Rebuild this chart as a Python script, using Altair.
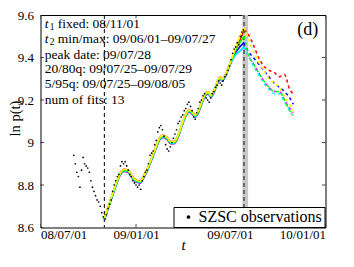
import altair as alt
import pandas as pd

FONT = "Liberation Serif"

# ---------------- data ----------------
x_ticks = ["2008-07-01", "2009-01-01", "2009-07-01", "2010-01-01"]
y_ticks = [8.6, 8.8, 9.0, 9.2, 9.4, 9.6]

# observations (every 3rd calendar day from obs_start)
obs_start = "2008-09-03"
obs_values = [
    8.94, 8.90, 8.86, 8.84, 8.79, 8.87, 8.93, 8.90, 8.89, 8.88,
    8.86, 8.82, 8.79, 8.77, 8.75, 8.73, 8.72, 8.70, 8.67, 8.65,
    8.64, 8.66, 8.69, 8.71, 8.73, 8.77, 8.80, 8.82, 8.84, 8.85,
    8.89, 8.91, 8.90, 8.91, 8.89, 8.87, 8.85, 8.84, 8.82, 8.81,
    8.80, 8.79, 8.80, 8.78, 8.82, 8.84, 8.86, 8.87, 8.90, 8.94,
    8.95, 8.96, 8.99, 9.01, 9.05, 9.07, 9.08, 9.06, 9.03, 8.99,
    8.97, 8.96, 8.98, 9.00, 9.02, 9.04, 9.06, 9.09, 9.10, 9.12,
    9.13, 9.15, 9.16, 9.18, 9.19, 9.17, 9.15, 9.12, 9.11, 9.14,
    9.16, 9.19, 9.20, 9.22, 9.23, 9.21, 9.20, 9.19, 9.21, 9.23,
    9.24, 9.26, 9.27, 9.29, 9.28, 9.27, 9.29, 9.31, 9.32, 9.34,
    9.36, 9.39, 9.42, 9.44, 9.45, 9.47, 9.46, 9.50, 9.52, 9.53,
]

# common pre-peak fit curve
curve_dates = [
    "2008-11-01", "2008-11-12", "2008-11-23", "2008-12-01", "2008-12-09",
    "2008-12-17", "2008-12-24", "2009-01-01", "2009-01-09", "2009-01-16",
    "2009-01-24", "2009-02-01", "2009-02-09", "2009-02-16", "2009-02-22",
    "2009-03-02", "2009-03-09", "2009-03-15", "2009-03-23", "2009-03-30",
    "2009-04-07", "2009-04-13", "2009-04-19", "2009-04-25", "2009-04-30",
    "2009-05-08", "2009-05-16", "2009-05-20", "2009-05-25", "2009-05-31",
    "2009-06-08", "2009-06-12", "2009-06-16", "2009-06-21", "2009-07-01",
]
curve_base = [
    8.64, 8.72, 8.80, 8.85, 8.87,
    8.865, 8.84, 8.82, 8.815, 8.84,
    8.88, 8.93, 8.98, 9.02, 9.03,
    9.02, 9.00, 9.00, 9.03, 9.08,
    9.13, 9.15, 9.14, 9.125, 9.14,
    9.19, 9.23, 9.235, 9.22, 9.24,
    9.29, 9.305, 9.295, 9.31, 9.37,
]
tail_dates = ["2009-07-11", "2009-07-20", "2009-07-28"]

fit_names = ["magenta", "blue", "red", "cyan", "green", "yellow"]
fit_colors = ["#ff00ff", "#0000ff", "#ff0000", "#00ffff", "#00ff00", "#ffff00"]
fit_offsets = [-0.006, -0.004, 0.004, -0.003, 0.0, 0.003]
fit_tails = {
    "magenta": [9.41, 9.43, 9.45],
    "blue":    [9.42, 9.45, 9.47],
    "red":     [9.43, 9.48, 9.53],
    "cyan":    [9.41, 9.43, 9.45],
    "green":   [9.43, 9.47, 9.50],
    "yellow":  [9.44, 9.50, 9.54],
}

post_dates = ["2009-07-28", "2009-08-05", "2009-08-15", "2009-08-25", "2009-09-04",
              "2009-09-14", "2009-09-24", "2009-10-04", "2009-10-14", "2009-10-24",
              "2009-10-31"]
post_values = {
    "red":     [9.53, 9.51, 9.46, 9.40, 9.36, 9.34, 9.33, 9.31, 9.32, 9.25, 9.23],
    "blue":    [9.47, 9.43, 9.40, 9.37, 9.34, 9.31, 9.28, 9.26, 9.24, 9.21, 9.18],
    "yellow":  [9.54, 9.49, 9.43, 9.38, 9.34, 9.30, 9.28, 9.26, 9.22, 9.18, 9.15],
    "magenta": [9.45, 9.41, 9.37, 9.33, 9.29, 9.26, 9.24, 9.24, 9.20, 9.16, 9.14],
    "cyan":    [9.45, 9.41, 9.36, 9.32, 9.28, 9.25, 9.23, 9.23, 9.19, 9.15, 9.12],
    "green":   [9.50, 9.42, 9.37, 9.33, 9.29, 9.26, 9.24, 9.24, 9.20, 9.15, 9.13],
}
post_order = ["red", "blue", "yellow", "magenta", "cyan", "green"]

t1_date = "2008-11-01"
peak_date = "2009-07-28"
band_start, band_end = "2009-07-25", "2009-08-05"

ann_x = "2008-07-09"
ann_sym = ["1", "2"]
ann_text = [
    "fixed: 08/11/01",
    "min/max: 09/06/01–09/07/27",
    "peak date: 09/07/28",
    "20/80q: 09/07/25–09/07/29",
    "5/95q:  09/07/25–09/08/05",
    "num of fits: 13",
]
ann_y = [9.558, 9.486, 9.414, 9.345, 9.273, 9.201]

# ---------------- frames ----------------
obs_dates = pd.date_range(obs_start, periods=len(obs_values), freq="3D").strftime("%Y-%m-%d")
obs_df = pd.DataFrame({"date": obs_dates, "v": obs_values, "series": "SZSC observations"})

W, H = 285, 212.5

xscale = alt.Scale(type="utc", domain=[alt.DateTime(year=2008, month=7, date=1, utc=True),
                                       alt.DateTime(year=2010, month=1, date=1, utc=True)])
yscale = alt.Scale(domain=[8.6, 9.6], nice=False, zero=False)

xaxis = alt.Axis(values=[alt.DateTime(year=int(d[:4]), month=int(d[5:7]), date=int(d[8:]), utc=True)
                         for d in x_ticks],
                 format="%y/%m/%d", ticks=False, domain=False, grid=False,
                 labelFont=FONT, labelFontSize=13, labelPadding=1, labelColor="black",
                 title="t", titleFont=FONT, titleFontStyle="italic", titleFontWeight="normal",
                 titleFontSize=15, titleY=16.5, titleBaseline="middle", titleColor="black")
yaxis = alt.Axis(values=y_ticks, format="~g", ticks=False, domain=False, grid=False,
                 labelFont=FONT, labelFontSize=13, labelPadding=7, labelColor="black",
                 title="ln p(t)", titleFont=FONT, titleFontWeight="normal", titleFontSize=14.5,
                 titleAngle=270, titleX=-25.5, titleY=103, titleAlign="center",
                 titleBaseline="middle", titleColor="black")

X = lambda f: alt.X(f, type="temporal", scale=xscale, axis=xaxis)
Y = lambda f: alt.Y(f, type="quantitative", scale=yscale, axis=yaxis)

layers = []

band_df = pd.DataFrame({"a": [band_start], "b": [band_end]})
layers.append(alt.Chart(band_df).mark_rect(color="#c8c8c8").encode(
    x=X("a"), x2="b", y=alt.value(0), y2=alt.value(H)))

layers.append(alt.Chart(pd.DataFrame({"d": [t1_date]})).mark_rule(
    color="black", strokeWidth=1, strokeDash=[4, 3]).encode(x=X("d"), y=alt.value(0), y2=alt.value(H)))
layers.append(alt.Chart(pd.DataFrame({"d": [peak_date]})).mark_rule(
    color="#555555", strokeWidth=1.6, strokeDash=[4, 3]).encode(x=X("d"), y=alt.value(0), y2=alt.value(H)))

# solid pre-peak fits
for name, col, off in zip(fit_names, fit_colors, fit_offsets):
    vals = [v + off for v in curve_base] + fit_tails[name]
    df = pd.DataFrame({"date": curve_dates + tail_dates, "v": vals})
    layers.append(alt.Chart(df).mark_line(color=col, strokeWidth=1.6, interpolate="monotone").encode(
        x=X("date"), y=Y("v")))

# dashed post-peak fits
for name in post_order:
    col = fit_colors[fit_names.index(name)]
    df = pd.DataFrame({"date": post_dates, "v": post_values[name]})
    layers.append(alt.Chart(df).mark_line(color=col, strokeWidth=1.5, strokeDash=[3, 3],
                                          interpolate="monotone").encode(x=X("date"), y=Y("v")))

# observations
layers.append(alt.Chart(obs_df).mark_circle(size=3, opacity=1).encode(
    x=X("date"), y=Y("v"),
    color=alt.Color("series:N", scale=alt.Scale(range=["black"]),
                    legend=alt.Legend(title=None, orient="bottom-right", offset=1,
                                      fillColor="white", strokeColor="black", padding=2,
                                      labelFont=FONT, labelFontSize=16, labelColor="black",
                                      labelFontWeight="normal",
                                      symbolSize=5, symbolType="circle", symbolFillColor="black",
                                      symbolStrokeColor="black", symbolOffset=5, labelOffset=2,
                                      cornerRadius=0))))

# annotations
t_df = pd.DataFrame({"d": [ann_x] * 2, "v": ann_y[:2], "s": ann_sym})
layers.append(alt.Chart(t_df).mark_text(font=FONT, fontSize=13.5, fontStyle="italic", align="left",
                                        baseline="middle", color="black").encode(
    x=X("d"), y=Y("v"), text=alt.value("t")))
layers.append(alt.Chart(t_df).mark_text(font=FONT, fontSize=9.5, align="left", dx=5, dy=3,
                                        baseline="middle", color="black").encode(
    x=X("d"), y=Y("v"), text="s:N"))
a_df = pd.DataFrame({"d": [ann_x] * 6, "v": ann_y, "t": ann_text})
layers.append(alt.Chart(a_df.iloc[:2]).mark_text(font=FONT, fontSize=13.5, align="left", dx=13,
                                                 baseline="middle", color="black").encode(
    x=X("d"), y=Y("v"), text="t:N"))
layers.append(alt.Chart(a_df.iloc[2:]).mark_text(font=FONT, fontSize=13.5, align="left",
                                                 baseline="middle", color="black").encode(
    x=X("d"), y=Y("v"), text="t:N"))

layers.append(alt.Chart(pd.DataFrame({"d": ["2009-11-28"], "v": [9.53], "t": ["(d)"]})).mark_text(
    font=FONT, fontSize=18, align="center", baseline="middle", color="black").encode(
    x=X("d"), y=Y("v"), text="t:N"))

# inward ticks
yt = pd.DataFrame({"v": y_ticks})
xt = pd.DataFrame({"d": x_ticks})
for xv in [0, W]:
    layers.append(alt.Chart(yt).mark_tick(orient="horizontal", size=7, thickness=1, color="black",
                                          clip=True).encode(y=Y("v"), x=alt.value(xv)))
for yv in [0, H]:
    layers.append(alt.Chart(xt).mark_tick(orient="vertical", size=7, thickness=1, color="black",
                                          clip=True).encode(x=X("d"), y=alt.value(yv)))

chart = alt.layer(*layers).properties(
    width=W, height=H,
    autosize=alt.AutoSizeParams(type="none"),
    padding={"left": 32.5, "top": 7, "right": 20, "bottom": 40},
    background="white",
).configure_view(stroke="black", strokeWidth=1)

chart.save("out.html", embed_options={"renderer": "svg", "actions": False})
